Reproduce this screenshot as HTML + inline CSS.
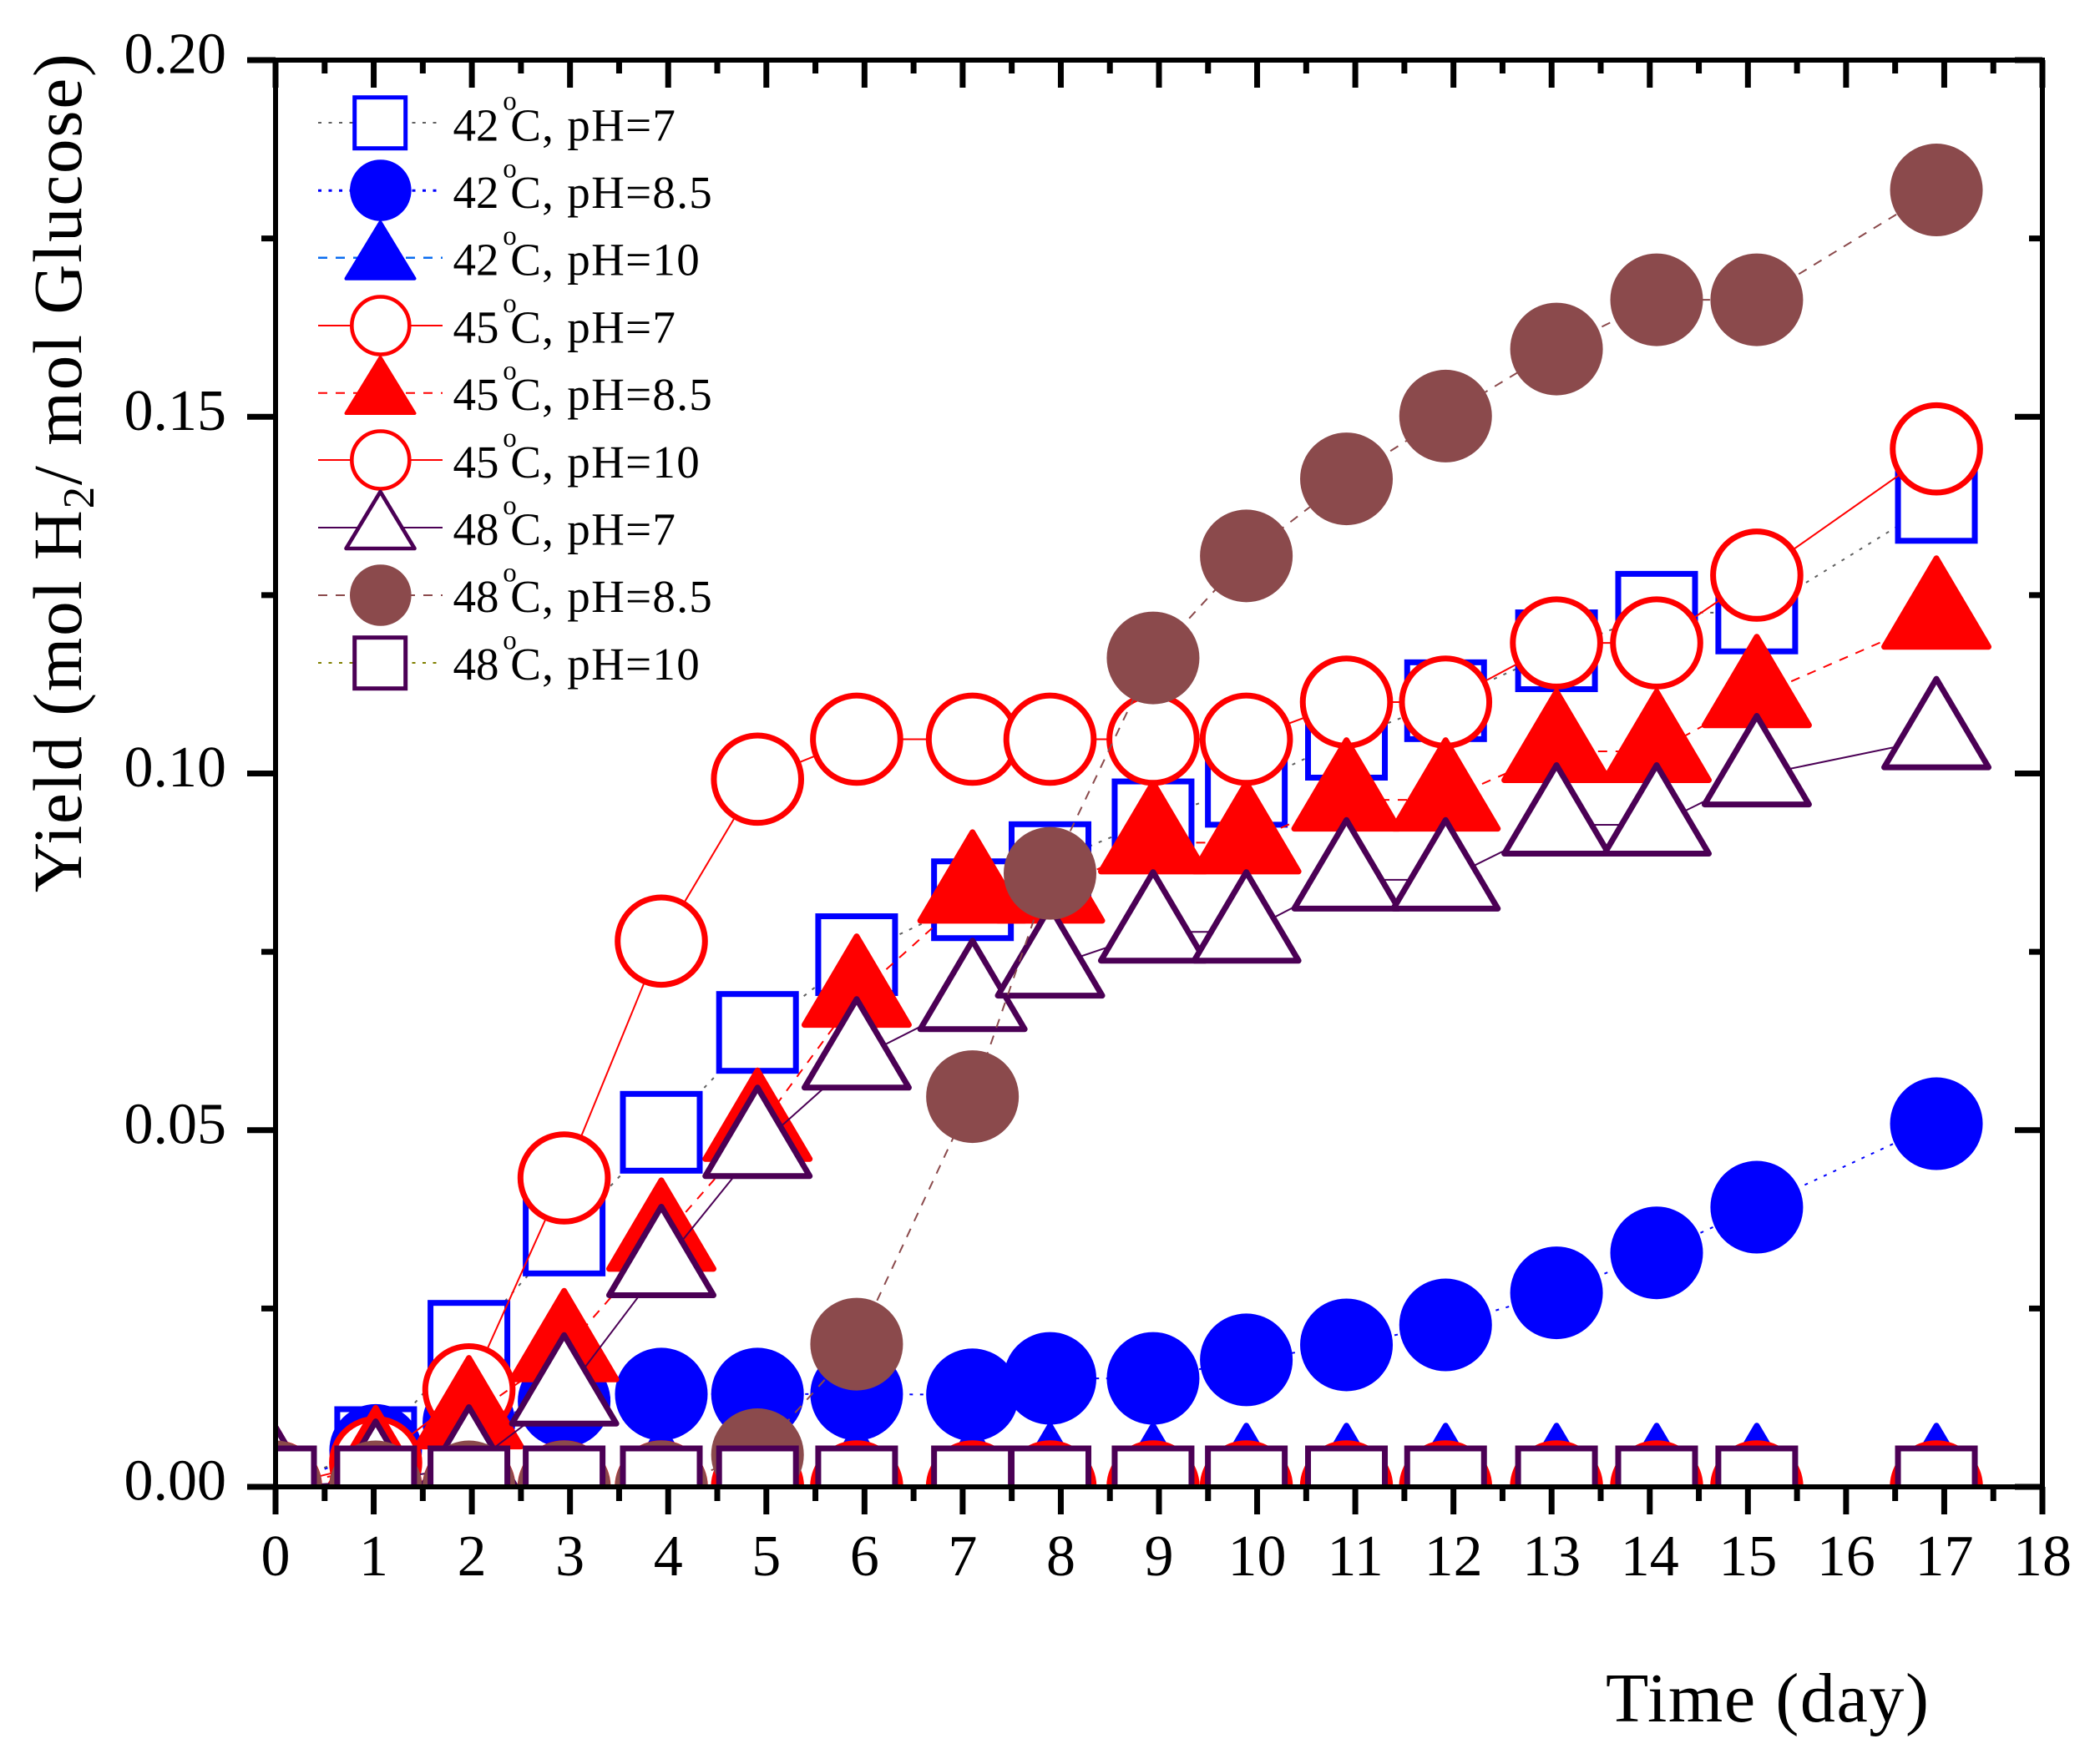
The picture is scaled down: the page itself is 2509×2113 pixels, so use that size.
<!DOCTYPE html>
<html lang="en">
<head>
<meta charset="utf-8">
<title>Hydrogen yield over time</title>
<style>
html,body{margin:0;padding:0;background:#fff;}
svg{display:block;}
text{font-family:"Liberation Serif",serif;fill:#000;}
.tick-label{font-size:70px;}
.legend-label{font-size:55px;}
.deg{font-size:33px;}
.unit{letter-spacing:1.3px;}
</style>
</head>
<body>
<svg id="chart" xmlns="http://www.w3.org/2000/svg" width="2509" height="2113" viewBox="0 0 2509 2113">
  <defs>
    <clipPath id="plot-clip"><rect x="330" y="72" width="2116" height="1709"/></clipPath>
  </defs>
  <rect x="0" y="0" width="2509" height="2113" fill="#fff"/>
  <g id="series-layer" clip-path="url(#plot-clip)"></g>
  <g id="axis-layer"></g>

  <text transform="translate(97,1069) rotate(-90)" font-size="83" letter-spacing="1.8">Yield (mol H<tspan font-size="53" dy="15">2</tspan><tspan dy="-15">/ mol Glucose)</tspan></text>
  <text x="1923" y="2062" font-size="84" letter-spacing="1.6">Time (day)</text>

  <g>
    <g>
      <line x1="381" x2="530" y1="147" y2="147" stroke="#606060" stroke-width="2" stroke-dasharray="4 8.5"/>
      <rect x="424.7" y="116.7" width="61" height="61" fill="#fff" stroke="#0000ff" stroke-width="5"/>
      <text class="legend-label" x="542.5" y="168.3">42<tspan class="deg" dx="4.7" dy="-36.6">o</tspan><tspan class="unit" dx="-7.5" dy="36.6">C, pH=7</tspan></text>
    </g>
    <g>
      <line x1="381" x2="530" y1="228.3" y2="228.3" stroke="#0000ff" stroke-width="3" stroke-dasharray="4 8.5"/>
      <circle cx="455.8" cy="228" r="36.8" fill="#0000ff"/>
      <text class="legend-label" x="542.5" y="249">42<tspan class="deg" dx="4.7" dy="-36.6">o</tspan><tspan class="unit" dx="-7.5" dy="36.6">C, pH=8.5</tspan></text>
    </g>
    <g>
      <line x1="381" x2="530" y1="308.7" y2="308.7" stroke="#0a6cf0" stroke-width="2.5" stroke-dasharray="11 10"/>
      <polygon points="455.5,266 496.5,333.7 414.5,333.7" fill="#0000ff" stroke="#0000ff" stroke-width="4" stroke-linejoin="round"/>
      <text class="legend-label" x="542.5" y="329.7">42<tspan class="deg" dx="4.7" dy="-36.6">o</tspan><tspan class="unit" dx="-7.5" dy="36.6">C, pH=10</tspan></text>
    </g>
    <g>
      <line x1="381" x2="530" y1="390" y2="390" stroke="#ff0000" stroke-width="2"/>
      <circle cx="455.8" cy="390" r="34.5" fill="#fff" stroke="#ff0000" stroke-width="4.6"/>
      <text class="legend-label" x="542.5" y="410.4">45<tspan class="deg" dx="4.7" dy="-36.6">o</tspan><tspan class="unit" dx="-7.5" dy="36.6">C, pH=7</tspan></text>
    </g>
    <g>
      <line x1="381" x2="530" y1="470.7" y2="470.7" stroke="#ff0000" stroke-width="2" stroke-dasharray="11 10"/>
      <polygon points="455.5,428 496.5,495 414.5,495" fill="#ff0000" stroke="#ff0000" stroke-width="4" stroke-linejoin="round"/>
      <text class="legend-label" x="542.5" y="491.1">45<tspan class="deg" dx="4.7" dy="-36.6">o</tspan><tspan class="unit" dx="-7.5" dy="36.6">C, pH=8.5</tspan></text>
    </g>
    <g>
      <line x1="381" x2="530" y1="551" y2="551" stroke="#ff0000" stroke-width="2"/>
      <circle cx="455.8" cy="551" r="34.5" fill="#fff" stroke="#ff0000" stroke-width="4.6"/>
      <text class="legend-label" x="542.5" y="571.8">45<tspan class="deg" dx="4.7" dy="-36.6">o</tspan><tspan class="unit" dx="-7.5" dy="36.6">C, pH=10</tspan></text>
    </g>
    <g>
      <line x1="381" x2="530" y1="632" y2="632" stroke="#4b0055" stroke-width="2"/>
      <polygon points="455.5,589 496.5,657 414.5,657" fill="#fff" stroke="#4b0055" stroke-width="4.6" stroke-linejoin="round"/>
      <text class="legend-label" x="542.5" y="652.5">48<tspan class="deg" dx="4.7" dy="-36.6">o</tspan><tspan class="unit" dx="-7.5" dy="36.6">C, pH=7</tspan></text>
    </g>
    <g>
      <line x1="381" x2="530" y1="713" y2="713" stroke="#8b4a4c" stroke-width="2" stroke-dasharray="11 10"/>
      <circle cx="455.8" cy="713" r="36.8" fill="#8b4a4c"/>
      <text class="legend-label" x="542.5" y="733.2">48<tspan class="deg" dx="4.7" dy="-36.6">o</tspan><tspan class="unit" dx="-7.5" dy="36.6">C, pH=8.5</tspan></text>
    </g>
    <g>
      <line x1="381" x2="530" y1="794" y2="794" stroke="#808000" stroke-width="2" stroke-dasharray="4 8.5"/>
      <rect x="424.7" y="763.7" width="61" height="61" fill="#fff" stroke="#4b0055" stroke-width="5"/>
      <text class="legend-label" x="542.5" y="813.9">48<tspan class="deg" dx="4.7" dy="-36.6">o</tspan><tspan class="unit" dx="-7.5" dy="36.6">C, pH=10</tspan></text>
    </g>
  </g>
</svg>
<script>
const days = [0, 1.02, 1.97, 2.94, 3.93, 4.91, 5.92, 7.1, 7.89, 8.94, 9.89, 10.91, 11.92, 13.05, 14.07, 15.09, 16.92];
const yield42Ph7 = [0, 0.0055, 0.0204, 0.0353, 0.0497, 0.0637, 0.0746, 0.0823, 0.0875, 0.0935, 0.0982, 0.1048, 0.1102, 0.1172, 0.1226, 0.1225, 0.138];
const yield42Ph85 = [0, 0.0051, 0.009, 0.012, 0.013, 0.013, 0.013, 0.0129, 0.0152, 0.0152, 0.0178, 0.0199, 0.0227, 0.0272, 0.0328, 0.0392, 0.0509];
const yield42Ph10 = [0, 0.0002, 0.0002, 0.0002, 0.0002, 0.0002, 0.0002, 0.0002, 0.0002, 0.0002, 0.0002, 0.0002, 0.0002, 0.0002, 0.0002, 0.0002, 0.0002];
const yield45Ph7 = [0, 0.0034, 0.0136, 0.0433, 0.0765, 0.0992, 0.1048, 0.1048, 0.1048, 0.1048, 0.1048, 0.11, 0.11, 0.1183, 0.1183, 0.1278, 0.1455];
const yield45Ph85 = [0, 0.0027, 0.0097, 0.0191, 0.0346, 0.05, 0.0688, 0.0834, 0.0834, 0.0903, 0.0903, 0.0963, 0.0963, 0.1031, 0.1031, 0.1108, 0.1218];
const yield45Ph10 = [0, 0, 0, 0, 0, 0, 0, 0, 0, 0, 0, 0, 0, 0, 0, 0, 0];
const yield48Ph7 = [0, 0.0008, 0.0028, 0.0129, 0.0309, 0.0476, 0.06, 0.0682, 0.0729, 0.0778, 0.0778, 0.0851, 0.0851, 0.0928, 0.0928, 0.0997, 0.1049];
const yield48Ph85 = [0, 0, 0, 0, 0, 0.0045, 0.02, 0.0547, 0.086, 0.1162, 0.1305, 0.1413, 0.1501, 0.1595, 0.1664, 0.1664, 0.1818];
const yield48Ph10 = [0, 0, 0, 0, 0, 0, 0, 0, 0, 0, 0, 0, 0, 0, 0, 0, 0];
const xTickLabels = ["0", "1", "2", "3", "4", "5", "6", "7", "8", "9", "10", "11", "12", "13", "14", "15", "16", "17", "18"];
const yTickLabels = ["0.00", "0.05", "0.10", "0.15", "0.20"];

const NS = "http://www.w3.org/2000/svg";
const PLOT = { left: 330, right: 2446, top: 72, bottom: 1781 };
const X_MAX = 18;
const Y_MAX = 0.2;
function xScale(v) { return PLOT.left + (v / X_MAX) * (PLOT.right - PLOT.left); }
function yScale(v) { return PLOT.bottom - (v / Y_MAX) * (PLOT.bottom - PLOT.top); }

function make(tag, attrs, parent) {
  const el = document.createElementNS(NS, tag);
  for (const k in attrs) el.setAttribute(k, attrs[k]);
  parent.appendChild(el);
  return el;
}

const seriesList = [
  { key: "42c-ph7", values: yield42Ph7, shape: "openSquare", color: "#0000ff", line: "#606060", dash: "4 8.5" },
  { key: "42c-ph8-5", values: yield42Ph85, shape: "disc", color: "#0000ff", line: "#0000ff", dash: "4 8.5" },
  { key: "42c-ph10", values: yield42Ph10, shape: "solidTriangle", color: "#0000ff", line: "#0a6cf0", dash: "11 10" },
  { key: "45c-ph7", values: yield45Ph7, shape: "openCircle", color: "#ff0000", line: "#ff0000", dash: "" },
  { key: "45c-ph8-5", values: yield45Ph85, shape: "solidTriangle", color: "#ff0000", line: "#ff0000", dash: "11 10" },
  { key: "45c-ph10", values: yield45Ph10, shape: "openCircle", color: "#ff0000", line: "#ff0000", dash: "" },
  { key: "48c-ph7", values: yield48Ph7, shape: "openTriangle", color: "#4b0055", line: "#4b0055", dash: "" },
  { key: "48c-ph8-5", values: yield48Ph85, shape: "disc", color: "#8b4a4c", line: "#8b4a4c", dash: "11 10" },
  { key: "48c-ph10", values: yield48Ph10, shape: "openSquare", color: "#4b0055", line: "#808000", dash: "4 8.5" }
];

function drawMarker(shape, color, cx, cy, parent) {
  if (shape === "openSquare") {
    return make("rect", { x: cx - 46, y: cy - 46, width: 92, height: 92, fill: "#fff", stroke: color, "stroke-width": 7 }, parent);
  }
  if (shape === "disc") {
    return make("circle", { cx: cx, cy: cy, r: 55.5, fill: color }, parent);
  }
  if (shape === "openCircle") {
    return make("circle", { cx: cx, cy: cy, r: 52.3, fill: "#fff", stroke: color, "stroke-width": 7 }, parent);
  }
  const pts = cx + "," + (cy - 71.5) + " " + (cx + 62.5) + "," + (cy + 34.5) + " " + (cx - 62.5) + "," + (cy + 34.5);
  return make("polygon", { points: pts, fill: shape === "solidTriangle" ? color : "#fff", stroke: color, "stroke-width": 7, "stroke-linejoin": "round" }, parent);
}

const seriesLayer = document.getElementById("series-layer");
seriesList.forEach(function (s) {
  const group = make("g", {}, seriesLayer);
  
  
  const pts = s.values.map(function (v, i) { return xScale(days[i]) + "," + yScale(v); }).join(" ");
  const path = make("polyline", { points: pts, fill: "none", stroke: s.line, "stroke-width": 2 }, group);
  if (s.dash) path.setAttribute("stroke-dasharray", s.dash);
  
  
  s.values.forEach(function (v, i) {
    const mark = drawMarker(s.shape, s.color, xScale(days[i]), yScale(v), group);
    
    
  });
});

const axisLayer = document.getElementById("axis-layer");
function tick(x1, y1, x2, y2, name) {
  const t = make("line", { x1: x1, y1: y1, x2: x2, y2: y2, stroke: "#000", "stroke-width": 7 }, axisLayer);
  
  
}

xTickLabels.forEach(function (label, i) {
  const x = xScale(Number(label));
  tick(x, PLOT.bottom, x, PLOT.bottom + 33, 'x-major-tick');
  tick(x, PLOT.top, x, PLOT.top + 33, 'x-top-major-tick');
  if (i < xTickLabels.length - 1) {
    const mx = xScale(Number(label) + 0.5);
    tick(mx, PLOT.bottom, mx, PLOT.bottom + 17, 'x-minor-tick');
    tick(mx, PLOT.top, mx, PLOT.top + 16, 'x-top-minor-tick');
  }
  const t = make("text", { x: x, y: 1887, "text-anchor": "middle", class: "tick-label" }, axisLayer);
  t.textContent = label;
  
  
});

yTickLabels.forEach(function (label, i) {
  const y = yScale(Number(label));
  tick(PLOT.left - 34, y, PLOT.left, y, 'y-major-tick');
  tick(PLOT.right - 33, y, PLOT.right, y, 'y-right-major-tick');
  if (i < yTickLabels.length - 1) {
    const my = yScale(Number(label) + 0.025);
    tick(PLOT.left - 17, my, PLOT.left, my, 'y-minor-tick');
    tick(PLOT.right - 16, my, PLOT.right, my, 'y-right-minor-tick');
  }
  const t = make("text", { x: 271, y: y + 15.5, "text-anchor": "end", class: "tick-label" }, axisLayer);
  t.textContent = label;
  
  
});

const frame = make("rect", { x: PLOT.left, y: PLOT.top, width: PLOT.right - PLOT.left, height: PLOT.bottom - PLOT.top, fill: "none", stroke: "#000", "stroke-width": 6 }, axisLayer);


</script>
</body>
</html>
